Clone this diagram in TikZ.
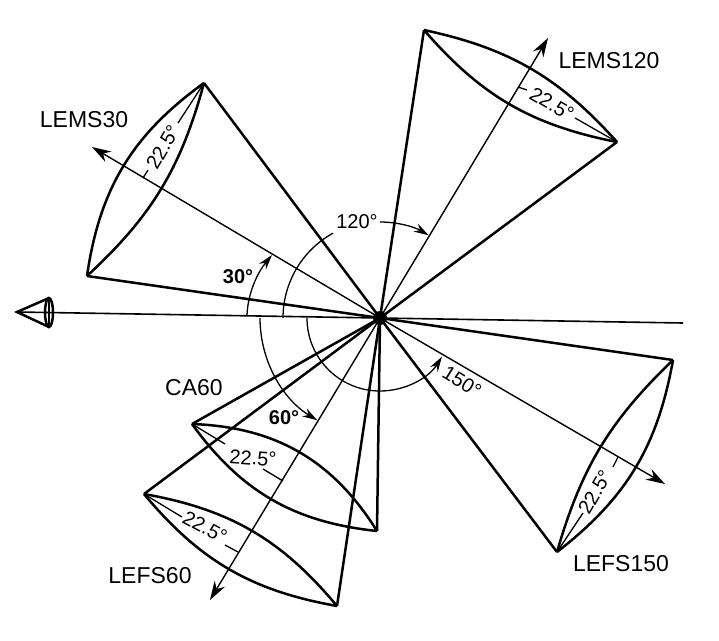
\documentclass[tikz,border=0pt]{standalone}
\usepackage{fontspec}
\setmainfont{Liberation Sans}
\usetikzlibrary{arrows.meta}
\tikzset{
	coneline/.style={line width=2.5pt},
	axisline/.style={line width=1.4pt,-{Stealth[length=19pt,width=12pt]}},
	arcline/.style={line width=1.3pt},
	arcarrow/.style={line width=1.3pt,-{Stealth[length=15pt,width=9pt]}},
	tickline/.style={line width=1.3pt},
	beamlabel/.style={font=\fontsize{23}{26}\selectfont,inner sep=0pt},
	anglelabel/.style={font=\fontsize{20}{24}\selectfont,inner sep=0pt},
	boldlabel/.style={font=\fontsize{20}{24}\selectfont\bfseries,inner sep=0pt}
}
\begin{document}
\begin{tikzpicture}[x=1pt,y=-1pt]
	\useasboundingbox (0,0) rectangle (719,640);
	\coordinate (O) at (380,318);
	% cone rims
	\foreach \name/\x/\y in {Ma/204/83,Mb/87/276,Na/424/30,Nb/617/142,Ca/192/424,Cb/377/531,Fa/144/494,Fb/337/606,Ga/673/360,Gb/557/552}{
		\coordinate (\name) at (\x,\y);
	};
	% axis ends
	\foreach \name/\x/\y in {Mt/92/147,Nt/548/38,Ft/210/600,Gt/665/484,Nose/17/312,Tail/683/323}{
		\coordinate (\name) at (\x,\y);
	};
	% cones
	\foreach \x in {Ma,Mb,Na,Nb,Ca,Cb,Fa,Fb,Ga,Gb}{
		\draw[coneline] (O)--(\x);
	};
	\foreach \x/\y/\a/\b in {Ma/Mb/23/16,Na/Nb/19/18,Ca/Cb/24/28,Fa/Fb/20/20,Ga/Gb/15/21}{
		\draw[coneline] (\x) to[bend right=\a] (\y);
		\draw[coneline] (\x) to[bend left=\b] (\y);
	};
	% axes
	\foreach \x in {Mt,Nt,Ft,Gt}{
		\draw[axisline] (O)--(\x);
	};
	\draw[line width=1.6pt] (Nose)--(O)--(Tail);
	\fill (O) circle (7);
	% spacecraft
	\coordinate (Na1) at (49,298);
	\coordinate (Na2) at (49,327);
	\draw[coneline] (Na1)--(Nose)--(Na2);
	\draw[coneline] (49,312.5) ellipse (4 and 14.5);
	\draw[arcline] (Na1)--(Na2);
	% angle arcs
	\coordinate (A30a) at (247,315);
	\coordinate (A30b) at (272,255);
	\draw[arcarrow] (A30a) .. controls (248,292) and (258,272) .. (A30b);
	\draw[arcline] (O) ++(-180:97) arc[start angle=-180,end angle=-119,radius=97];
	\draw[arcarrow] (O) ++(-90:96) arc[start angle=-90,end angle=-59.5,radius=96];
	\draw[arcarrow] (O) ++(-180:120) arc[start angle=-180,end angle=-238.5,radius=120];
	\draw[arcarrow] (O) ++(-180:73) arc[start angle=-180,end angle=-328,radius=73];
	% leaders of the 22.5 labels
	\foreach \xa/\ya/\xb/\yb in {143/178/148/170,518/87/527/90,225/545/238/552,263/469/283/481,613/467/618/457}{
		\draw[tickline] (\xa,\ya)--(\xb,\yb);
	};
	\draw[tickline] (178,123)--(Ma);
	\draw[tickline] (575,118)--(Nb);
	\draw[tickline] (225,444)--(Ca);
	\draw[tickline] (182,517)--(Fa);
	\draw[tickline] (583,513)--(Gb);
	% labels
	\node[beamlabel] (lems30) at (84,120) {LEMS30};
	\node[beamlabel] (lems120) at (609,61) {LEMS120};
	\node[beamlabel] (ca60) at (194,388) {CA60};
	\node[beamlabel] (lefs60) at (150,576) {LEFS60};
	\node[beamlabel] (lefs150) at (621,564) {LEFS150};
	\node[anglelabel,rotate=60] (w30) at (163,147) {22.5°};
	\node[anglelabel,rotate=-30] (w120) at (552,104) {22.5°};
	\node[anglelabel,rotate=-4] (wca) at (253,458) {22.5°};
	\node[anglelabel,rotate=-28] (w60) at (205,527) {22.5°};
	\node[anglelabel,rotate=60] (w150) at (595,492) {22.5°};
	\node[boldlabel] (a30) at (238,277) {30°};
	\node[anglelabel] (a120) at (357,222) {120°};
	\node[boldlabel] (a60) at (284,418) {60°};
	\node[anglelabel,rotate=-32] (a150) at (462,382) {150°};
\end{tikzpicture}
\end{document}
